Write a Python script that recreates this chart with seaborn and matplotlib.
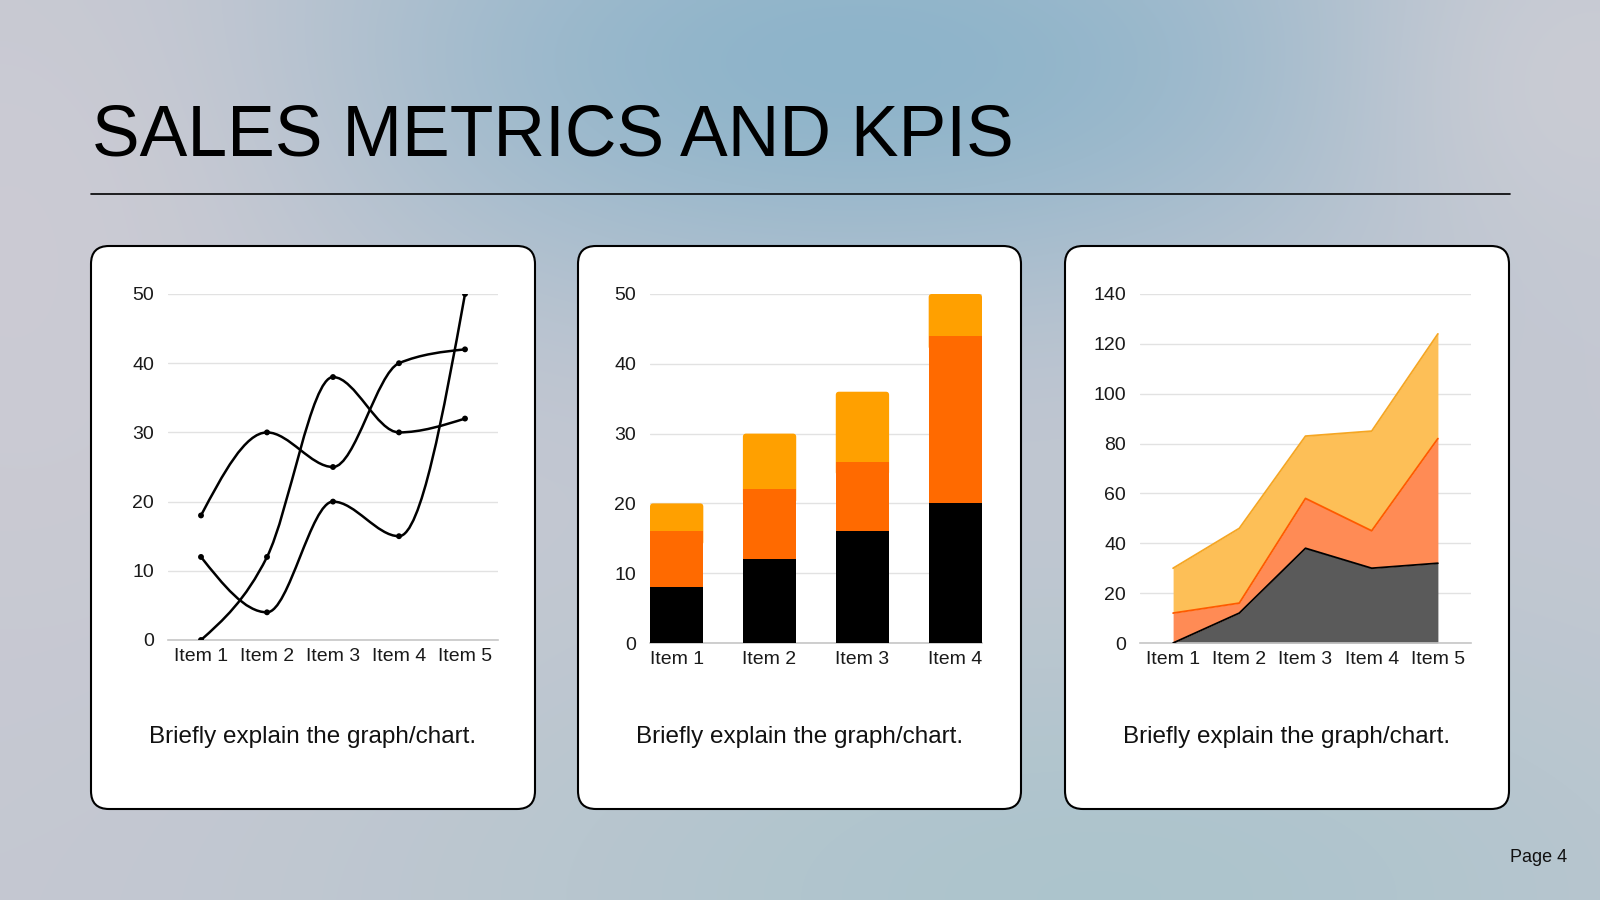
import numpy as np
import pandas as pd
import seaborn as sns
from matplotlib import pyplot as plt
from matplotlib.patches import FancyBboxPatch, PathPatch
from matplotlib.path import Path

# ---- data ----
items5 = ["Item 1", "Item 2", "Item 3", "Item 4", "Item 5"]
series_a = [18, 30, 25, 40, 42]
series_b = [12, 4, 20, 15, 50]
series_c = [0, 12, 38, 30, 32]

bar_items = ["Item 1", "Item 2", "Item 3", "Item 4"]
bar_low = [8, 12, 16, 20]
bar_mid = [8, 10, 10, 24]
bar_top = [4, 8, 10, 6]

area_bottom = [0, 12, 38, 30, 32]
area_mid = [12, 4, 20, 15, 50]
area_top = [18, 30, 25, 40, 42]

title = "SALES METRICS AND KPIS"
caption = "Briefly explain the graph/chart."
page_label = "Page 4"

sns.set_theme(style="white")
plt.rcParams["font.family"] = ["Liberation Sans", "DejaVu Sans"]

W, H = 1600, 900
fig = plt.figure(figsize=(16, 9), dpi=100)


def px_axes(left, top, right, bottom):
    return fig.add_axes([left / W, 1 - bottom / H, (right - left) / W, (bottom - top) / H])


# ---- background ----
bg = fig.add_axes([0, 0, 1, 1], zorder=-5)
bg.set_xlim(0, W)
bg.set_ylim(H, 0)
bg.axis("off")

gx, gy = np.meshgrid(np.linspace(0, W, 320), np.linspace(0, H, 180))
img = np.ones((180, 320, 3)) * np.array([198, 200, 210]) / 255


def blend(img, cx, cy, sx, sy, color, strength):
    w = strength * np.exp(-(((gx - cx) / sx) ** 2 + ((gy - cy) / sy) ** 2))
    return img * (1 - w[..., None]) + np.array(color) / 255 * w[..., None]


img = blend(img, 860, 60, 620, 250, (142, 180, 202), 1.0)
img = blend(img, 1100, 900, 700, 300, (170, 196, 204), 0.9)
img = blend(img, 1580, 80, 220, 220, (206, 206, 213), 0.8)
img = blend(img, 30, 200, 300, 420, (206, 204, 212), 0.8)
bg.imshow(img, extent=(0, W, H, 0), aspect="auto", interpolation="bilinear", zorder=0)

bg.text(92, 155, title, fontsize=51.5, color="black", va="baseline", ha="left")
bg.plot([91, 1510], [194, 194], color="black", lw=1.2, zorder=2)

cards = [(91, 535), (578, 1021), (1065, 1509)]
for x0, x1 in cards:
    bg.add_patch(FancyBboxPatch((x0, 246), x1 - x0, 563,
                                boxstyle="round,pad=0,rounding_size=18",
                                fc="white", ec="black", lw=1.5, zorder=3))
    bg.text((x0 + x1) / 2, 737, caption, fontsize=17.5, ha="center", va="center",
            color="#111111", zorder=4)

bg.text(1567, 857, page_label, fontsize=13, ha="right", va="center", color="#111111")


def style_axes(ax, ymax, step):
    ax.set_facecolor("none")
    ax.set_ylim(0, ymax)
    ax.set_yticks(np.arange(0, ymax + 1, step))
    ax.grid(axis="y", color="#e2e2e2", lw=1)
    ax.grid(axis="x", visible=False)
    for s in ["top", "right", "left"]:
        ax.spines[s].set_visible(False)
    ax.spines["bottom"].set_color("#c6c6c6")
    ax.spines["bottom"].set_linewidth(1.2)
    ax.tick_params(axis="both", length=0, labelsize=14, colors="#1a1a1a")
    ax.tick_params(axis="y", pad=10)
    ax.tick_params(axis="x", pad=6)
    ax.set_xlabel("")
    ax.set_ylabel("")
    ax.set_axisbelow(True)


def monotone_slopes(y):
    y = np.asarray(y, dtype=float)
    s = np.diff(y)
    t = np.zeros(len(y))
    for i in range(1, len(y) - 1):
        s0, s1 = s[i - 1], s[i]
        t[i] = (np.sign(s0) + np.sign(s1)) * min(abs(s0), abs(s1), 0.25 * abs(s0 + s1))
    t[0] = (3 * s[0] - t[1]) / 2
    t[-1] = (3 * s[-1] - t[-2]) / 2
    return t


def smooth_path(y):
    t = monotone_slopes(y)
    verts = [(0, y[0])]
    codes = [Path.MOVETO]
    for i in range(len(y) - 1):
        verts += [(i + 1 / 3, y[i] + t[i] / 3), (i + 2 / 3, y[i + 1] - t[i + 1] / 3), (i + 1, y[i + 1])]
        codes += [Path.CURVE4] * 3
    return Path(verts, codes)


# ---- chart 1: smooth lines ----
ax1 = px_axes(168, 294, 498, 640)
lines_df = pd.DataFrame({"item": items5 * 3,
                         "value": series_a + series_b + series_c,
                         "series": ["A"] * 5 + ["B"] * 5 + ["C"] * 5})
sns.scatterplot(data=lines_df, x="item", y="value", color="black", s=18,
                edgecolor="none", ax=ax1, zorder=4, legend=False)
for ser in [series_a, series_b, series_c]:
    ax1.add_patch(PathPatch(smooth_path(ser), fc="none", ec="black", lw=1.8, zorder=3))
ax1.set_xlim(-0.5, 4.5)
style_axes(ax1, 50, 10)

# ---- chart 2: stacked bars ----
ax2 = px_axes(650, 294, 982, 643)
cum_mid = np.add(bar_low, bar_mid)
cum_top = cum_mid + np.array(bar_top)
bw = 0.574
for vals, col in [(cum_top, "#FFA000"), (cum_mid, "#FF6A00"), (bar_low, "#000000")]:
    sns.barplot(x=bar_items, y=list(vals), color=col, width=bw, saturation=1,
                edgecolor="none", linewidth=0, ax=ax2, zorder=3)
# small rounded top corners on the uppermost segment (its lower end hides under the mid segment)
for rect, base in zip(list(ax2.patches[:len(bar_items)]), cum_mid):
    rect.set_visible(False)
    y0 = base - 2
    ax2.add_patch(FancyBboxPatch((rect.get_x(), y0), rect.get_width(), rect.get_height() - y0,
                                 boxstyle="round,pad=0,rounding_size=0.035",
                                 mutation_aspect=13.3,
                                 fc="#FFA000", ec="none", zorder=2.9))
ax2.set_xlim(-bw / 2, 3 + bw / 2)
style_axes(ax2, 50, 10)

# ---- chart 3: stacked area ----
ax3 = px_axes(1140, 294, 1471, 643)
xs = np.arange(len(items5))
lvl1 = np.array(area_bottom)
lvl2 = lvl1 + np.array(area_mid)
lvl3 = lvl2 + np.array(area_top)
ax3.stackplot(xs, area_bottom, area_mid, area_top,
              colors=["#5A5A5A", "#FF8B55", "#FDBF57"], zorder=2, lw=0)
area_df = pd.DataFrame({"x": np.tile(xs, 3),
                        "y": np.concatenate([lvl1, lvl2, lvl3]),
                        "layer": ["bottom"] * 5 + ["mid"] * 5 + ["top"] * 5})
sns.lineplot(data=area_df, x="x", y="y", hue="layer",
             palette={"bottom": "#000000", "mid": "#FF5A00", "top": "#F5A623"},
             lw=1.3, ax=ax3, legend=False, zorder=3)
ax3.set_xticks(xs)
ax3.set_xticklabels(items5)
ax3.set_xlim(-0.5, 4.5)
style_axes(ax3, 140, 20)

fig.savefig("out.png", dpi=100)
